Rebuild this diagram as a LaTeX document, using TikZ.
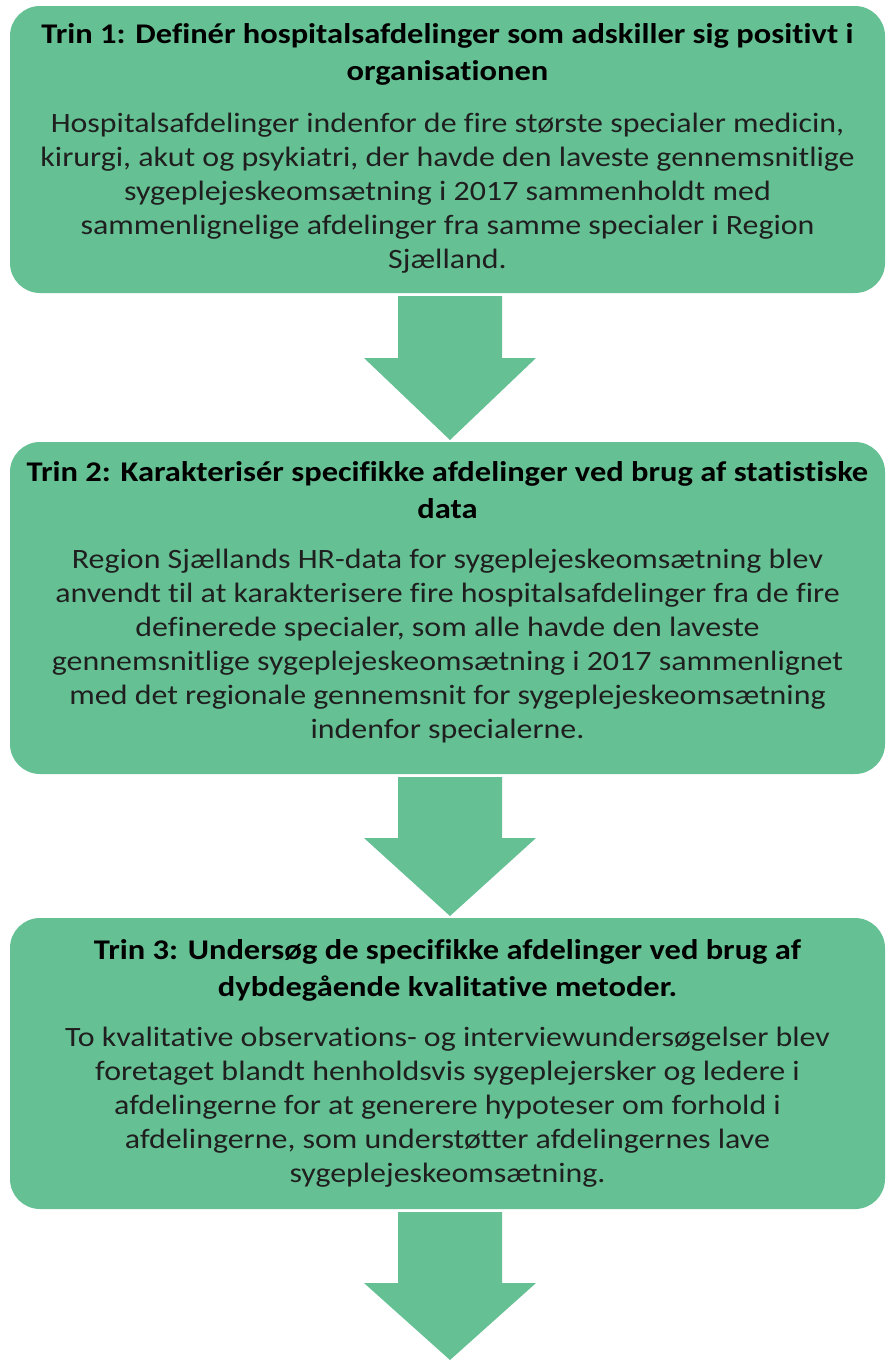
\documentclass[tikz,border=0pt]{standalone}
\usepackage{fontspec}
\setmainfont{Carlito}[FakeStretch=1.14,Ligatures=NoCommon]
\usetikzlibrary{calc}
\definecolor{boxgreen}{RGB}{101,193,148}
\tikzset{
  stepbox/.style={fill=boxgreen, draw=none, rounded corners=30pt},
  titletext/.style={font=\fontsize{28.5}{37}\selectfont\bfseries, align=center, inner sep=0pt, text=black},
  bodytext/.style={font=\fontsize{28}{34}\selectfont, align=center, inner sep=0pt, text=black!88},
  bigarrow/.style={fill=boxgreen, draw=none},
}
\begin{document}
\begin{tikzpicture}[x=1pt,y=-1pt]
\useasboundingbox (0,0) rectangle (887,1360);
% boxes
\fill[stepbox] (10,6) rectangle (885,293);
\coordinate (b1s) at (450,293);
\fill[stepbox] (10,442) rectangle (885,774);
\coordinate (b2n) at (450,442);
\coordinate (b2s) at (450,774);
\fill[stepbox] (10,918) rectangle (885,1209);
\coordinate (b3n) at (450,918);
\coordinate (b3s) at (450,1209);
\coordinate (endpt) at (450,1360);

% texts box 1
\node[titletext, anchor=base] (t1) at (447.5,80) {Trin 1: Definér hospitalsafdelinger som adskiller sig positivt i\\organisationen};
\node[bodytext, anchor=base] (d1) at (447.5,268) {Hospitalsafdelinger indenfor de fire største specialer medicin,\\kirurgi, akut og psykiatri, der havde den laveste gennemsnitlige\\sygeplejeskeomsætning i 2017 sammenholdt med\\sammenlignelige afdelinger fra samme specialer i Region\\Sjælland.};

% texts box 2
\node[titletext, anchor=base] (t2) at (447.5,518) {Trin 2: Karakterisér specifikke afdelinger ved brug af statistiske\\data};
\node[bodytext, anchor=base] (d2) at (447.5,738) {Region Sjællands HR-data for sygeplejeskeomsætning blev\\anvendt til at karakterisere fire hospitalsafdelinger fra de fire\\definerede specialer, som alle havde den laveste\\gennemsnitlige sygeplejeskeomsætning i 2017 sammenlignet\\med det regionale gennemsnit for sygeplejeskeomsætning\\indenfor specialerne.};

% texts box 3
\node[titletext, anchor=base] (t3) at (447.5,996) {Trin 3: Undersøg de specifikke afdelinger ved brug af\\dybdegående kvalitative metoder.};
\node[bodytext, anchor=base] (d3) at (447.5,1182) {To kvalitative observations- og interviewundersøgelser blev\\foretaget blandt henholdsvis sygeplejersker og ledere i\\afdelingerne for at generere hypoteser om forhold i\\afdelingerne, som understøtter afdelingernes lave\\sygeplejeskeomsætning.};

% arrows
\fill[bigarrow] ($(b1s)+(-52,3)$) -- ($(b1s)+(52,3)$) -- ($(b1s)+(52,65)$) -- ($(b1s)+(86,65)$)
  -- ($(b2n)+(0,-2)$) -- ($(b1s)+(-86,65)$) -- ($(b1s)+(-52,65)$) -- cycle;
\fill[bigarrow] ($(b2s)+(-52,3)$) -- ($(b2s)+(52,3)$) -- ($(b2s)+(52,64)$) -- ($(b2s)+(86,64)$)
  -- ($(b3n)+(0,-2)$) -- ($(b2s)+(-86,64)$) -- ($(b2s)+(-52,64)$) -- cycle;
\fill[bigarrow] ($(b3s)+(-52,3)$) -- ($(b3s)+(52,3)$) -- ($(b3s)+(52,74)$) -- ($(b3s)+(86,74)$)
  -- (endpt) -- ($(b3s)+(-86,74)$) -- ($(b3s)+(-52,74)$) -- cycle;
\end{tikzpicture}
\end{document}
